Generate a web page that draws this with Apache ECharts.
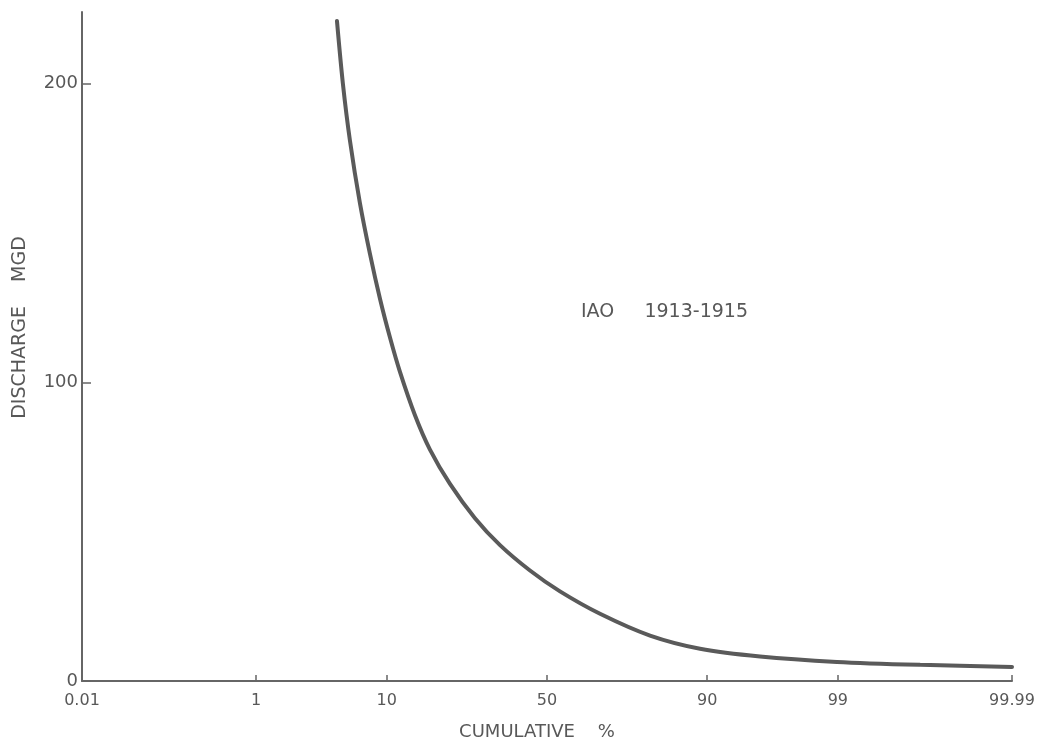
<!DOCTYPE html>
<html>
<head>
<meta charset="utf-8">
<title>IAO 1913-1915 discharge duration curve</title>
<script src="https://cdn.jsdelivr.net/npm/echarts@6/dist/echarts.min.js"></script>
<style>
  html, body { margin: 0; padding: 0; background: #ffffff; }
  #chart { width: 1047px; height: 747px; }
</style>
</head>
<body>
<div id="chart"></div>
<script>
// Probability-paper tick labels (cumulative percent)
const tickPercents = [0.01, 1, 10, 50, 90, 99, 99.99];
const tickLabels = ['0.01', '1', '10', '50', '90', '99', '99.99'];

// Discharge duration curve: cumulative percent vs discharge (MGD)
const cumulativePercent = [4.65, 5.13, 5.75, 6.73, 7.84, 9.08, 10.46, 11.98, 14.55, 17.46,
                           21.89, 28.23, 35.35, 44.59, 54.14, 66.42, 79.5, 88.95, 95.58,
                           98.98, 99.858, 99.99];
const dischargeMGD = [221, 200, 181, 160, 143, 128, 115, 103.5, 89, 77.5,
                      66, 54.5, 45.5, 37, 30, 22.5, 15.2, 10.8, 8.2,
                      6.4, 5.4, 4.7];

const yTicks = [0, 100, 200];

// Inverse standard normal CDF (Acklam's rational approximation),
// used to place percentages on a normal probability scale.
function probit(p) {
  const a = [-3.969683028665376e+01, 2.209460984245205e+02, -2.759285104469687e+02,
             1.383577518672690e+02, -3.066479806614716e+01, 2.506628277459239e+00];
  const b = [-5.447609879822406e+01, 1.615858368580409e+02, -1.556989798598866e+02,
             6.680131188771972e+01, -1.328068155288572e+01];
  const c = [-7.784894002430293e-03, -3.223964580411365e-01, -2.400758277161838e+00,
             -2.549732539343734e+00, 4.374664141464968e+00, 2.938163982698783e+00];
  const d = [7.784695709041462e-03, 3.224671290700398e-01, 2.445134137142996e+00,
             3.754408661907416e+00];
  const pLow = 0.02425, pHigh = 1 - pLow;
  let q, r;
  if (p < pLow) {
    q = Math.sqrt(-2 * Math.log(p));
    return (((((c[0]*q+c[1])*q+c[2])*q+c[3])*q+c[4])*q+c[5]) /
           ((((d[0]*q+d[1])*q+d[2])*q+d[3])*q+1);
  }
  if (p <= pHigh) {
    q = p - 0.5; r = q * q;
    return (((((a[0]*r+a[1])*r+a[2])*r+a[3])*r+a[4])*r+a[5])*q /
           (((((b[0]*r+b[1])*r+b[2])*r+b[3])*r+b[4])*r+1);
  }
  q = Math.sqrt(-2 * Math.log(1 - p));
  return -(((((c[0]*q+c[1])*q+c[2])*q+c[3])*q+c[4])*q+c[5]) /
          ((((d[0]*q+d[1])*q+d[2])*q+d[3])*q+1);
}

const z = pct => probit(pct / 100);
const tickZ = tickPercents.map(z);
const labelByZ = {};
tickZ.forEach((v, i) => { labelByZ[v.toFixed(6)] = tickLabels[i]; });

const curve = cumulativePercent.map((p, i) => [z(p), dischargeMGD[i]]);

const ink = '#585858';
const fontFamily = 'DejaVu Sans, Liberation Sans, sans-serif';

const chart = echarts.init(document.getElementById('chart'), null, { renderer: 'canvas' });
chart.setOption({
  backgroundColor: '#ffffff',
  animation: false,
  title: {
    text: 'IAO     1913-1915',
    left: 576,
    top: 298,
    textStyle: { color: ink, fontFamily: fontFamily, fontSize: 19, fontWeight: 'normal' }
  },
  grid: { left: 82, right: 35, top: 12, bottom: 66 },
  xAxis: {
    type: 'value',
    min: tickZ[0],
    max: tickZ[tickZ.length - 1],
    name: 'CUMULATIVE    %',
    nameLocation: 'middle',
    nameGap: 42,
    nameTextStyle: { color: ink, fontFamily: fontFamily, fontSize: 18, padding: [0, 20, 0, 0] },
    axisLine: { show: true, onZero: false, lineStyle: { color: '#666666', width: 2 } },
    axisTick: { show: true, inside: true, length: 6, customValues: tickZ,
                lineStyle: { color: '#666666', width: 1.5 } },
    axisLabel: {
      customValues: tickZ,
      margin: 12,
      color: ink,
      fontFamily: fontFamily,
      fontSize: 16,
      formatter: v => labelByZ[v.toFixed(6)] || ''
    },
    splitLine: { show: false }
  },
  yAxis: {
    type: 'value',
    min: 0,
    max: 224,
    interval: 100,
    name: 'DISCHARGE    MGD',
    nameLocation: 'middle',
    nameGap: 52,
    nameTextStyle: { color: ink, fontFamily: fontFamily, fontSize: 19, padding: [0, 0, 0, 38] },
    axisLine: { show: true, onZero: false, lineStyle: { color: '#666666', width: 2 } },
    axisTick: { show: true, inside: true, length: 9, customValues: yTicks,
                lineStyle: { color: '#666666', width: 1.5 } },
    axisLabel: {
      customValues: yTicks,
      margin: 4,
      color: ink,
      fontFamily: fontFamily,
      fontSize: 18
    },
    splitLine: { show: false }
  },
  series: [{
    type: 'line',
    data: curve,
    smooth: 0.3,
    symbol: 'none',
    lineStyle: { color: '#5a5a5a', width: 4, cap: 'round' }
  }]
});
</script>
</body>
</html>
